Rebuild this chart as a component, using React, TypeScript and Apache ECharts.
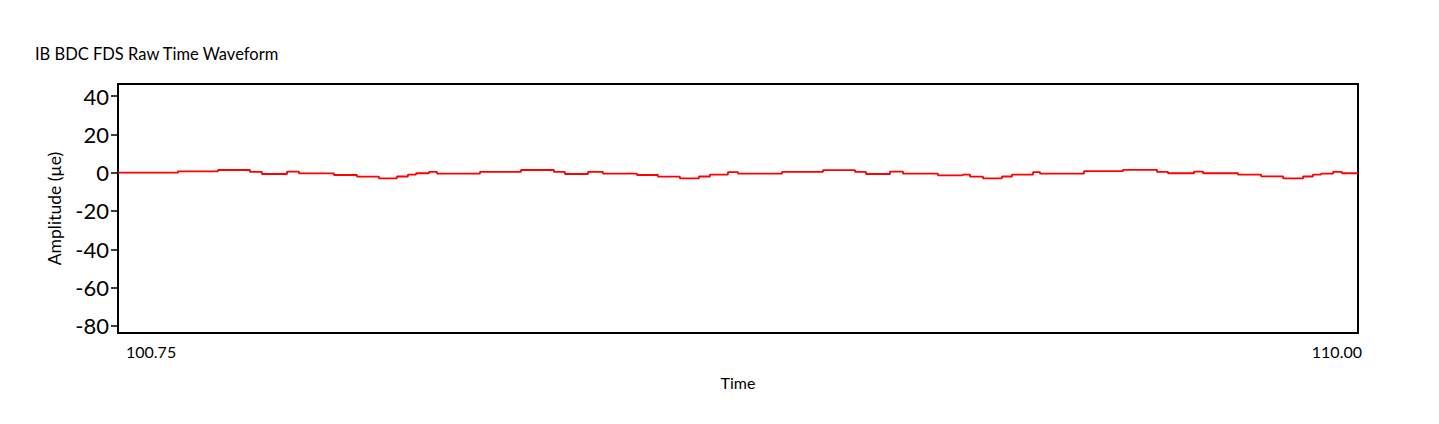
import React, { useEffect, useRef } from "react";
import * as echarts from "echarts";

const titleText = "IB BDC FDS Raw Time Waveform";
const xAxisName = "Time";
const yAxisName = "Amplitude (µe)";
const xMin = 100.75;
const xMax = 110.0;
const xTickLabels = [100.75, 110.0];
const yTickValues = [-80, -60, -40, -20, 0, 20, 40];
const yMin = -83.7;
const yMax = 46.3;

// step breakpoints (time) and held amplitude values
const times = [
  100.75, 101.198, 101.496, 101.735, 101.824, 102.011, 102.1, 102.361, 102.533, 102.697,
  102.831, 102.913, 102.973, 103.07, 103.13, 103.45, 103.756, 104.002, 104.084, 104.256,
  104.368, 104.622, 104.778, 104.942, 105.084, 105.166, 105.3, 105.375, 105.703, 106.009,
  106.248, 106.33, 106.509, 106.606, 106.867, 107.053, 107.106, 107.203, 107.344, 107.419,
  107.576, 107.628, 107.956, 108.247, 108.501, 108.583, 108.777, 108.844, 109.105, 109.277,
  109.441, 109.59, 109.664, 109.724, 109.814, 109.881, 110.0,
];
const amplitudes = [
  0, 0.7, 1.4, 0.4, -0.7, 0.6, -0.4, -1.2, -2.1, -3.0,
  -2.0, -1.0, -0.3, 0.4, -0.5, 0.4, 1.4, 0.4, -0.7, 0.4,
  -0.5, -1.2, -2.1, -3.0, -2.0, -1.0, 0.3, -0.5, 0.4, 1.3,
  0.4, -0.7, 0.6, -0.5, -1.4, -1.0, -2.1, -3.0, -2.0, -1.0,
  0.3, -0.5, 0.8, 1.5, 0.4, -0.3, 0.6, -0.3, -1.0, -1.9,
  -3.0, -2.0, -1.0, -0.5, 0.4, -0.3, -0.3,
];

const FONT = "Lato, 'Open Sans', sans-serif";

export default function App() {
  const ref = useRef<HTMLDivElement>(null);
  useEffect(() => {
    if (!ref.current) return;
    const chart = echarts.init(ref.current, undefined, { renderer: "svg" });
    const data = times.map((t, i) => [t, amplitudes[i]]);
    chart.setOption({
      animation: false,
      backgroundColor: "#ffffff",
      title: {
        text: titleText,
        left: 30,
        top: 40,
        textStyle: { fontFamily: FONT, fontSize: 16.5, fontWeight: "normal", color: "#000" },
      },
      grid: {
        left: 118,
        right: 81,
        top: 84,
        bottom: 91,
        show: true,
        borderColor: "#000",
        borderWidth: 2,
        backgroundColor: "transparent",
      },
      xAxis: {
        type: "value",
        min: xMin,
        max: xMax,
        name: xAxisName,
        nameLocation: "middle",
        nameGap: 41,
        nameTextStyle: { fontFamily: FONT, fontSize: 16, color: "#000" },
        axisLine: { show: false },
        axisTick: { show: false },
        splitLine: { show: false },
        axisLabel: {
          customValues: xTickLabels,
          formatter: (v: number) => v.toFixed(2),
          fontFamily: FONT,
          fontSize: 16,
          color: "#000",
          margin: 10,
          alignMinLabel: "left",
          alignMaxLabel: "right",
          padding: [0, -4, 0, 8],
        },
      },
      yAxis: {
        type: "value",
        min: yMin,
        max: yMax,
        name: yAxisName,
        nameLocation: "middle",
        nameGap: 55,
        nameTextStyle: { fontFamily: FONT, fontSize: 17.5, color: "#000" },
        axisLine: { show: true, lineStyle: { color: "#000", width: 2 } },
        axisTick: { show: true, customValues: yTickValues, length: 7, lineStyle: { color: "#000", width: 1.5 } },
        splitLine: { show: false },
        axisLabel: {
          customValues: yTickValues,
          fontFamily: FONT,
          fontSize: 22,
          color: "#000",
          margin: 9,
        },
      },
      series: [
        {
          type: "line",
          step: "end",
          data,
          symbol: "none",
          lineStyle: { color: "#ff0000", width: 1.8 },
        },
      ],
    });
    return () => chart.dispose();
  }, []);
  return (
    <div
      ref={ref}
      style={{ position: "fixed", left: 0, top: 0, width: 1439, height: 424, background: "#fff" }}
    />
  );
}
